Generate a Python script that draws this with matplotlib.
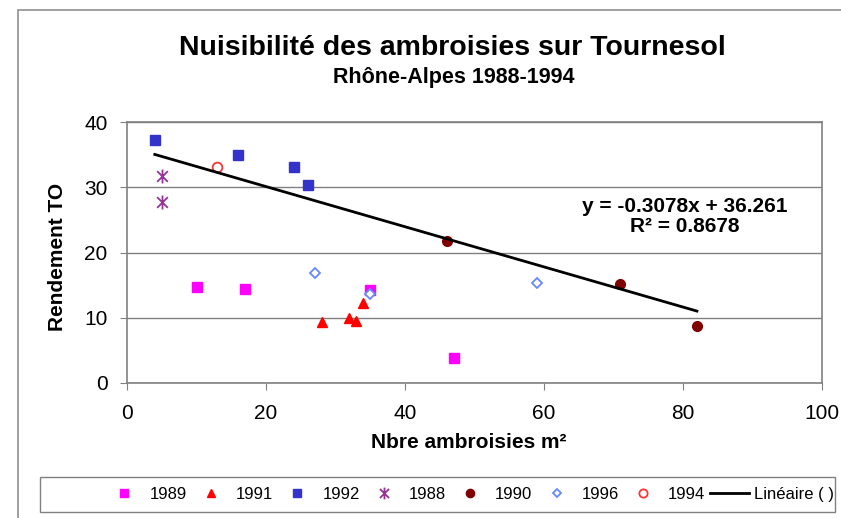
import matplotlib
matplotlib.use('Agg')
import matplotlib.pyplot as plt
from matplotlib.path import Path
from matplotlib.patches import Rectangle
import numpy as np

plt.rcParams['font.family'] = ['Liberation Sans', 'DejaVu Sans']

# data
x1989 = [10, 17, 35, 47]
y1989 = [14.7, 14.4, 14.3, 3.9]
x1991 = [28, 32, 33, 34]
y1991 = [9.3, 10.0, 9.5, 12.3]
x1992 = [4, 16, 24, 26]
y1992 = [37.2, 34.9, 33.1, 30.3]
x1988 = [5, 5]
y1988 = [31.7, 27.8]
x1990 = [46, 71, 82]
y1990 = [21.8, 15.1, 8.7]
x1996 = [27, 35, 59]
y1996 = [16.8, 13.7, 15.4]
x1994 = [13]
y1994 = [33.1]
slope = -0.3078
intercept = 36.261
r2 = 0.8678

# excel-like star: x with a vertical bar
star = Path([(-1, -1), (1, 1), (-1, 1), (1, -1), (0, -1.3), (0, 1.3)],
            [Path.MOVETO, Path.LINETO, Path.MOVETO, Path.LINETO, Path.MOVETO, Path.LINETO])

fig = plt.figure(figsize=(8.41, 5.18), dpi=100)
fig.patches.append(Rectangle((18/841, -0.1), 1.0, 1 - 10/518 + 0.1, transform=fig.transFigure,
                             fill=False, edgecolor='#909090', lw=1.2))

ax = fig.add_axes([127/841, 1 - 383/518, 695/841, 261/518])

ax.plot(x1989, y1989, 's', color='#FF00FF', ms=7, label='1989', ls='none')
ax.plot(x1991, y1991, '^', color='#FF0000', ms=7, label='1991', ls='none')
ax.plot(x1992, y1992, 's', color='#3333CC', ms=7, label='1992', ls='none')
ax.plot(x1988, y1988, marker=star, color='#993399', ms=10, mew=1.3, label='1988', ls='none')
ax.plot(x1990, y1990, 'o', color='#800000', ms=7, label='1990', ls='none')
ax.plot(x1996, y1996, 'D', mfc='white', mec='#6688FF', mew=1.3, ms=5, label='1996', ls='none')
ax.plot(x1994, y1994, 'o', mfc='white', mec='#FF3333', mew=1.3, ms=7, label='1994', ls='none')

xall = x1989 + x1991 + x1992 + x1988 + x1990 + x1996 + x1994
xs = np.array([min(xall), max(xall)])
ax.plot(xs, slope * xs + intercept, color='black', lw=2, label='Linéaire ( )')

ax.text(80.3, 25.5, f'y = {slope}x + {intercept}\nR² = {r2}', ha='center', va='center',
        fontsize=15, fontweight='bold', linespacing=1.1, multialignment='center')

ax.set_xlim(0, 100)
ax.set_ylim(0, 40)
ax.set_xticks(range(0, 101, 20))
ax.set_yticks(range(0, 41, 10))
ax.grid(axis='y', color='#808080', lw=1)
ax.set_axisbelow(True)
for s in ax.spines.values():
    s.set_color('#808080')
    s.set_linewidth(1.2)
ax.tick_params(direction='out', length=5, color='#808080', labelsize=15)
ax.tick_params(axis='x', pad=10)
ax.tick_params(axis='y', pad=9)

fig.text(469/841, 1 - 443/518, 'Nbre ambroisies m²', ha='center', va='center',
         fontsize=15, fontweight='bold')
fig.text(58/841, 1 - 257/518, 'Rendement TO', ha='center', va='center', rotation=90,
         fontsize=15, fontweight='bold')

fig.text(452/841, 1 - 48/518, 'Nuisibilité des ambroisies sur Tournesol', ha='center', va='center',
         fontsize=20.5, fontweight='bold')
fig.text(454/841, 1 - 78/518, 'Rhône-Alpes 1988-1994', ha='center', va='center',
         fontsize=15.5, fontweight='bold')

fig.patches.append(Rectangle((40/841, 1 - 512/518), 795/841, 35/518, transform=fig.transFigure,
                             fill=False, edgecolor='#808080', lw=1))
h, l = ax.get_legend_handles_labels()
fig.legend(h, l, ncol=8, loc='center right', bbox_to_anchor=(836/841, 1 - 494.5/518),
           frameon=False, fontsize=12, handlelength=2.3, handletextpad=0.35, columnspacing=0.3,
           borderpad=0.1, borderaxespad=0, markerscale=0.85)

fig.savefig('out.png', dpi=100)
